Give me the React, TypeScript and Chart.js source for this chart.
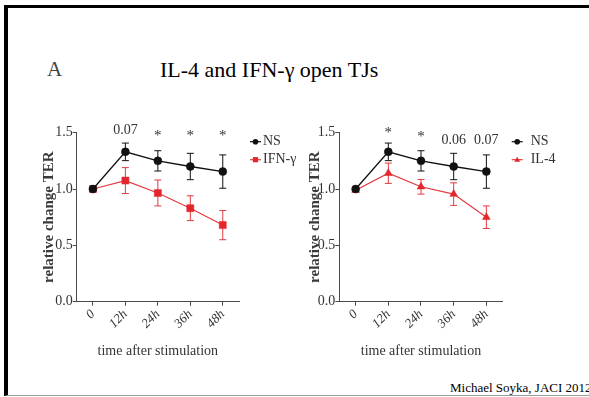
import React, { useEffect, useRef } from "react";
import { Chart, registerables } from "chart.js";

Chart.register(...registerables);

// ---------- data ----------
const timeLabels = ["0", "12h", "24h", "36h", "48h"];
const yTickValues = [0, 0.5, 1.0, 1.5];

const nsMean = [1.0, 1.33, 1.25, 1.2, 1.155];
const nsErr = [0, 0.078, 0.09, 0.117, 0.148];

const ifnMean = [1.0, 1.075, 0.965, 0.83, 0.68];
const ifnErr = [0, 0.115, 0.115, 0.11, 0.13];

const il4Mean = [0.99, 1.14, 1.02, 0.955, 0.75];
const il4Err = [0, 0.09, 0.065, 0.1, 0.1];

const ifnMarks = ["", "0.07", "*", "*", "*"];
const ifnMarkY = [0, 1.518, 1.47, 1.47, 1.47];
const il4Marks = ["", "*", "*", "0.06", "0.07"];
const il4MarkY = [0, 1.5, 1.462, 1.43, 1.43];

// ---------- styling ----------
const SERIF = "'Liberation Serif', 'Times New Roman', serif";
const RED = "#e3262d";
const RED_LINE = "#e2393f";
const BLACK = "#111111";
const AXIS = "#4a4a4a";
const TEXT = "#333333";

function drawMarker(ctx: CanvasRenderingContext2D, style: string, x: number, y: number, r: number, color: string) {
  ctx.fillStyle = color;
  ctx.beginPath();
  if (style === "rect") {
    ctx.rect(x - r, y - r, 2 * r, 2 * r);
  } else if (style === "triangle") {
    ctx.moveTo(x, y - r * 1.15);
    ctx.lineTo(x + r * 1.1, y + r * 0.8);
    ctx.lineTo(x - r * 1.1, y + r * 0.8);
    ctx.closePath();
  } else {
    ctx.arc(x, y, r, 0, Math.PI * 2);
  }
  ctx.fill();
}

const errorBarPlugin = {
  id: "errorBars",
  beforeDatasetsDraw(chart: any) {
    const { ctx } = chart;
    const x = chart.scales.x;
    const y = chart.scales.y;
    chart.data.datasets.forEach((ds: any) => {
      const errs = ds.errors;
      if (!errs) return;
      ctx.save();
      ctx.strokeStyle = ds.errorColor || ds.borderColor;
      ctx.lineWidth = 1;
      ds.data.forEach((v: number, i: number) => {
        const e = errs[i];
        if (!e) return;
        const px = x.getPixelForValue(i);
        const top = y.getPixelForValue(v + e);
        const bot = y.getPixelForValue(v - e);
        ctx.beginPath();
        ctx.moveTo(px, top);
        ctx.lineTo(px, bot);
        ctx.moveTo(px - 3.5, top);
        ctx.lineTo(px + 3.5, top);
        ctx.moveTo(px - 3.5, bot);
        ctx.lineTo(px + 3.5, bot);
        ctx.stroke();
      });
      ctx.restore();
    });
  },
};

const sigPlugin = {
  id: "sigMarks",
  afterDraw(chart: any, _args: any, opts: any) {
    const { ctx } = chart;
    const x = chart.scales.x;
    const y = chart.scales.y;
    ctx.save();
    ctx.fillStyle = TEXT;
    ctx.textAlign = "center";
    ctx.textBaseline = "middle";
    (opts.marks || []).forEach((m: string, i: number) => {
      if (!m) return;
      ctx.font = m === "*" ? `15px ${SERIF}` : `14px ${SERIF}`;
      ctx.fillText(m, x.getPixelForValue(i), y.getPixelForValue(opts.values[i]));
    });
    ctx.restore();
  },
};

const sideLegendPlugin = {
  id: "sideLegend",
  afterDraw(chart: any, _args: any, opts: any) {
    const { ctx, chartArea } = chart;
    chart.data.datasets.forEach((ds: any, i: number) => {
      const y = chartArea.top + opts.rowY[i];
      const x0 = chartArea.right + opts.markerX;
      const x1 = x0 + opts.markerW;
      ctx.save();
      ctx.strokeStyle = ds.borderColor;
      ctx.lineWidth = 1.2;
      ctx.beginPath();
      ctx.moveTo(x0, y);
      ctx.lineTo(x1, y);
      ctx.stroke();
      drawMarker(ctx, ds.pointStyle, (x0 + x1) / 2, y, ds.pointStyle === "circle" ? 2.8 : 2.6, ds.backgroundColor);
      ctx.fillStyle = TEXT;
      ctx.font = `14px ${SERIF}`;
      ctx.textAlign = "left";
      ctx.textBaseline = "middle";
      ctx.fillText(ds.label, chartArea.right + opts.textX, y);
      ctx.restore();
    });
  },
};

type PanelProps = {
  left: number;
  top: number;
  w: number;
  h: number;
  yWidth: number;
  yTitlePad: number;
  padRight: number;
  treatLabel: string;
  treatMean: number[];
  treatErr: number[];
  treatStyle: string;
  treatRadius: number;
  marks: string[];
  markY: number[];
  legendMarkerX: number;
  legendTextX: number;
};

function Panel(p: PanelProps) {
  const ref = useRef<HTMLCanvasElement | null>(null);
  useEffect(() => {
    if (!ref.current) return;
    const chartAreaTop = 22.7;
    const chartAreaBottom = 191.7;
    const chart = new Chart(ref.current, {
      type: "line",
      data: {
        labels: timeLabels,
        datasets: [
          {
            label: "NS",
            data: nsMean,
            errors: nsErr,
            borderColor: BLACK,
            backgroundColor: BLACK,
            borderWidth: 1.3,
            pointStyle: "circle",
            pointRadius: 4,
            pointBorderWidth: 0.5,
            pointBackgroundColor: BLACK,
            pointBorderColor: BLACK,
            tension: 0,
          } as any,
          {
            label: p.treatLabel,
            data: p.treatMean,
            errors: p.treatErr,
            errorColor: RED_LINE,
            borderColor: RED_LINE,
            backgroundColor: RED,
            borderWidth: 1.2,
            pointStyle: p.treatStyle,
            pointRadius: p.treatRadius,
            pointBorderWidth: 0.5,
            pointBackgroundColor: RED,
            pointBorderColor: RED,
            tension: 0,
          } as any,
        ],
      },
      options: {
        animation: false,
        responsive: false,
        devicePixelRatio: 1,
        layout: { padding: { left: 0, top: chartAreaTop, right: p.padRight, bottom: 0 } },
        plugins: {
          legend: { display: false },
          tooltip: { enabled: false },
          sigMarks: { marks: p.marks, values: p.markY },
          sideLegend: { rowY: [9, 27], markerX: p.legendMarkerX, markerW: 11, textX: p.legendTextX },
        } as any,
        scales: {
          x: {
            type: "category",
            offset: true,
            grid: { display: true, drawOnChartArea: false, drawTicks: true, tickLength: 4, color: AXIS, offset: false },
            border: { display: true, color: AXIS, width: 1 },
            ticks: {
              minRotation: 45,
              maxRotation: 45,
              autoSkip: false,
              padding: 1,
              color: TEXT,
              font: { family: SERIF, size: 13, style: "italic" },
            },
            title: {
              display: true,
              text: "time after stimulation",
              color: TEXT,
              font: { family: SERIF, size: 14 },
              padding: { top: 0, bottom: 4.9 },
            },
            afterFit: (s: any) => {
              s.height = p.h - chartAreaBottom;
            },
          },
          y: {
            min: 0,
            max: 1.5,
            afterBuildTicks: (s: any) => {
              s.ticks = yTickValues.map((v) => ({ value: v }));
            },
            grid: { display: true, drawOnChartArea: false, drawTicks: true, tickLength: 4, color: AXIS },
            border: { display: true, color: AXIS, width: 1 },
            ticks: {
              padding: 0,
              color: TEXT,
              font: { family: SERIF, size: 14 },
              callback: (v: any) => Number(v).toFixed(1),
            },
            title: {
              display: true,
              text: "relative change TER",
              color: "#3a3a3a",
              font: { family: SERIF, size: 15, weight: "bold" },
              padding: { top: p.yTitlePad, bottom: 0 },
            },
            afterFit: (s: any) => {
              s.width = p.yWidth;
            },
          },
        },
      } as any,
      plugins: [errorBarPlugin, sigPlugin, sideLegendPlugin],
    });
    return () => chart.destroy();
  }, []);
  return (
    <canvas
      ref={ref}
      width={p.w}
      height={p.h}
      style={{ position: "absolute", left: p.left, top: p.top, width: p.w, height: p.h }}
    />
  );
}

export default function App() {
  return (
    <div
      style={{
        position: "fixed",
        left: 0,
        top: 0,
        width: 589,
        height: 397,
        background: "#ffffff",
        overflow: "hidden",
      }}
    >
      <div
        style={{
          position: "absolute",
          left: 4,
          top: 5,
          width: 700,
          height: 391,
          boxSizing: "border-box",
          borderTop: "3px solid #000",
          borderLeft: "4px solid #000",
          borderBottom: "1px solid #9a9a9a",
        }}
      />
      <div
        style={{
          position: "absolute",
          left: 47,
          top: 59,
          fontFamily: SERIF,
          fontSize: 21,
          lineHeight: "21px",
          color: "#444",
        }}
      >
        A
      </div>
      <div
        style={{
          position: "absolute",
          left: 160,
          top: 58.8,
          fontFamily: SERIF,
          fontSize: 22,
          lineHeight: "22px",
          color: "#000",
          whiteSpace: "nowrap",
        }}
      >
        IL-4 and IFN-γ open TJs
      </div>
      <Panel
        left={10}
        top={110}
        w={290}
        h={255}
        yWidth={66.7}
        yTitlePad={30}
        padRight={61}
        treatLabel="IFN-γ"
        treatMean={ifnMean}
        treatErr={ifnErr}
        treatStyle="rect"
        treatRadius={5}
        marks={ifnMarks}
        markY={ifnMarkY}
        legendMarkerX={11}
        legendTextX={24}
      />
      <Panel
        left={300}
        top={110}
        w={285}
        h={255}
        yWidth={39.3}
        yTitlePad={6}
        padRight={82.3}
        treatLabel="IL-4"
        treatMean={il4Mean}
        treatErr={il4Err}
        treatStyle="triangle"
        treatRadius={4.5}
        marks={il4Marks}
        markY={il4MarkY}
        legendMarkerX={9}
        legendTextX={28}
      />
      <div
        style={{
          position: "absolute",
          left: 450,
          top: 381,
          fontFamily: SERIF,
          fontSize: 13,
          lineHeight: "13px",
          color: "#000",
          whiteSpace: "nowrap",
        }}
      >
        Michael Soyka, JACI 2012
      </div>
    </div>
  );
}
